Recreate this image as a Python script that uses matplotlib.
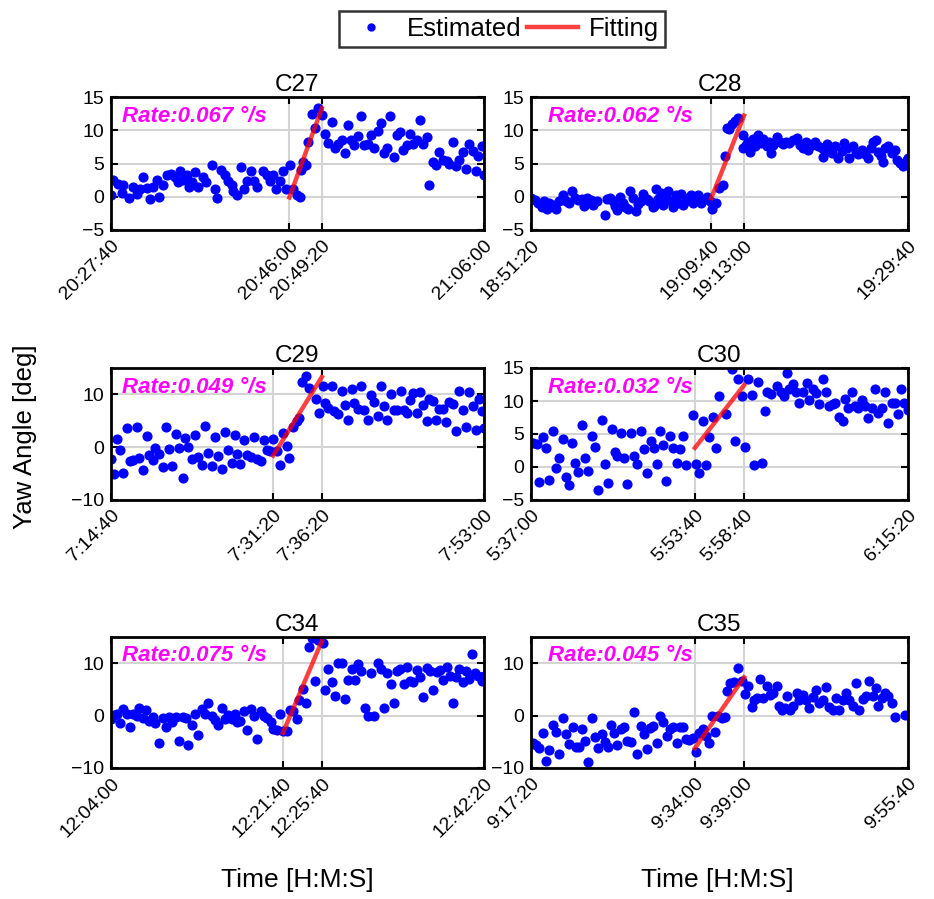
import matplotlib
matplotlib.use("Agg")
import matplotlib.pyplot as plt
from matplotlib.lines import Line2D

plt.rcParams['font.family'] = ['Liberation Sans', 'DejaVu Sans']

# data: seconds from first tick, yaw angle [deg]
c27_t = [0, 14, 45, 66, 76, 113, 138, 158, 179, 195, 220, 240, 261, 281, 298, 318, 343, 368, 394, 415,
         425, 446, 470, 483, 497, 518, 538, 569, 586, 621, 641, 656, 676, 703, 723, 744, 754, 775, 799, 820,
         836, 861, 882, 902, 939, 960, 980, 1001, 1017, 1042, 1062, 1077, 1104, 1120, 1145, 1165, 1169, 1186,
         1202, 1217, 1237, 1258, 1278, 1299, 1319, 1340, 1360, 1381, 1402, 1422, 1443, 1463, 1480, 1500, 1525,
         1541, 1560, 1586, 1603, 1621, 1644, 1662, 1683, 1703, 1720, 1745, 1761, 1782, 1802, 1823, 1843, 1864,
         1885, 1905, 1926, 1946, 1963, 1983, 2004, 2024, 2049, 2070, 2086, 2106, 2127, 2148, 2168, 2189, 2209,
         2230, 2250, 2265, 2285, 2300]
c27_v = [0.2, 2.5, 1.9, 0.5, 1.7, -0.2, 1.5, 0.4, 1.2, 3.0, 1.3, -0.4, 1.5, 2.5, 0.0, 1.8, 3.2, 3.4, 2.9, 2.2,
         3.8, 2.5, 3.2, 1.4, 2.2, 3.7, 1.5, 2.9, 2.2, 4.7, 1.2, -0.2, 4.0, 3.3, 2.4, 1.8, 0.8, 0.2, 4.5, 1.2,
         2.4, 3.8, 2.4, 1.5, 3.8, 3.3, 2.4, 3.2, 1.2, 2.3, 3.8, 1.2, 4.7, 1.2, 0.2, 0.0, 4.0, 5.2,
         4.8, 8.2, 12.4, 10.3, 13.3, 12.3, 9.5, 8.1, 11.3, 7.3, 8.0, 8.5, 6.6, 10.8, 8.5, 7.8, 9.1,
         12.2, 7.8, 7.9, 9.3, 7.3, 9.9, 11.1, 6.6, 7.4, 12.2, 6.0, 9.3, 9.8, 7.0, 7.8, 9.4, 8.0,
         8.6, 11.5, 8.0, 9.0, 1.7, 5.2, 4.7, 6.8, 5.5, 5.4, 4.9, 8.3, 4.6, 5.6, 6.8, 4.2, 8.0,
         6.9, 3.9, 6.2, 7.6, 3.2]

c28_t = [0, 24, 45, 65, 79, 96, 112, 132, 153, 173, 193, 214, 234, 250, 268, 289, 309, 325, 344, 364,
         380, 401, 452, 462, 482, 498, 513, 527, 543, 559, 574, 594, 604, 620, 641, 655, 669, 685, 706, 722,
         742, 750, 763, 777, 791, 807, 824, 838, 852, 869, 885, 899, 913, 930, 946, 960, 974, 990, 1007, 1021,
         1035, 1052, 1072, 1092, 1102, 1113, 1129, 1149, 1170, 1184, 1194, 1210, 1224, 1245, 1265, 1296, 1296,
         1312, 1326, 1336, 1353, 1367, 1387, 1401, 1418, 1438, 1454, 1462, 1479, 1503, 1519, 1536, 1556, 1576,
         1597, 1621, 1641, 1658, 1678, 1692, 1713, 1733, 1753, 1774, 1784, 1804, 1821, 1835, 1855, 1875, 1896,
         1910, 1926, 1942, 1963, 1983, 1997, 2018, 2038, 2058, 2073, 2089, 2105, 2119, 2134, 2145, 2160, 2180,
         2201, 2221, 2231, 2252, 2272, 2292, 2300]
c28_v = [-0.2, -0.5, -0.9, -1.5, -0.7, -1.9, -1.0, -1.2, -1.9, -0.7, 0.2, -0.6, -0.9, 0.9, -0.2, -0.5, -0.4,
         -1.4, -0.2, -0.5, -1.2, -0.7, -2.8, -0.4, -0.2, -0.7, -1.4, -2.0, 0.0, -1.0, -1.6, -1.9, 0.9, -0.2,
         -2.2, -1.1, -0.6, 0.4, -0.4, -0.7, -1.5, -1.4, 1.2, -0.4, 0.5, -1.2, 0.0, 0.9, -0.7, -1.5, 0.2, -1.0,
         0.4, -1.2, -0.7, -0.2, 0.3, -0.9, -0.2, 0.2, -1.0, -0.5, -0.1, -0.7, -1.9, -1.0, -0.9, 1.3, 1.7, 6.1,
         10.4, 10.2, 10.9, 11.4, 11.9, 7.3, 9.3, 7.8, 8.3, 6.8, 8.7, 7.6, 9.3, 8.1, 8.7, 7.7, 8.3, 6.6, 7.8,
         9.0, 8.2, 8.0, 8.3, 8.1, 8.6, 8.8, 7.8, 7.3, 8.3, 7.1, 7.8, 8.2, 7.6, 7.3, 6.0, 8.0, 6.9, 6.6, 7.6,
         5.8, 6.9, 8.1, 7.3, 5.8, 7.6, 6.8, 6.4, 7.0, 6.4, 5.8, 7.3, 8.2, 8.5, 6.8, 6.1, 5.3, 7.3, 7.6, 6.6,
         7.1, 5.5, 5.1, 4.6, 5.5, 5.8]

c29_t = [0, 18, 35, 55, 76, 97, 117, 138, 158, 175, 195, 220, 236, 257, 271, 298, 318, 339, 360, 374,
         401, 421, 442, 456, 477, 497, 518, 538, 559, 579, 600, 620, 641, 662, 682, 703, 723, 744, 764, 779,
         795, 820, 840, 861, 882, 902, 923, 943, 964, 980, 1001, 1021, 1042, 1058, 1083, 1099, 1120, 1145,
         1161, 1176, 1203, 1223, 1264, 1284, 1305, 1319, 1340, 1360, 1375, 1402, 1422, 1443, 1463, 1484, 1500,
         1525, 1541, 1560, 1582, 1603, 1621, 1644, 1662, 1683, 1704, 1724, 1745, 1765, 1786, 1806, 1823, 1843,
         1864, 1885, 1905, 1926, 1946, 1963, 1983, 2004, 2024, 2045, 2065, 2086, 2106, 2127, 2148, 2168, 2189,
         2209, 2230, 2250, 2271, 2285, 2300]
c29_v = [-2.2, -5.0, 1.6, -0.5, -4.8, 3.7, -2.7, -2.4, 3.8, -2.0, -4.3, 2.2, -1.4, -2.5, -0.1, -1.3, -3.8,
         3.9, -0.3, -3.5, 2.5, -0.1, -5.9, 1.8, 0.0, -2.2, 2.4, -1.9, -3.3, 4.1, -1.1, -3.5, 1.9, -1.6, -4.1,
         2.9, -0.5, -2.9, 2.4, -1.3, -3.1, 1.4, -1.4, -1.8, 1.9, -2.2, -2.7, 1.3, -0.5, -0.8, 1.6, -0.8, -3.3,
         2.7, 0.3, -2.0, 3.8, 5.0, 5.6, 12.4, 13.4, 11.3, 9.2, 6.5, 11.6, 8.3, 7.5, 11.6, 6.9, 6.2, 10.7, 8.0,
         5.2, 11.1, 8.4, 7.3, 11.6, 7.1, 5.2, 9.9, 8.6, 5.9, 11.5, 7.8, 5.2, 10.1, 7.1, 7.0, 10.7, 7.1, 6.5,
         9.0, 10.3, 6.4, 10.5, 8.0, 5.0, 9.2, 8.8, 5.2, 7.3, 7.3, 4.8, 8.6, 8.2, 3.1, 10.7, 7.0, 3.9, 10.5,
         7.8, 3.2, 9.2, 6.9, 3.7]

c30_t = [14, 35, 51, 71, 92, 112, 132, 153, 173, 193, 214, 234, 248, 269, 289, 309, 330, 350, 370, 391,
         411, 431, 452, 472, 492, 513, 527, 547, 568, 588, 608, 629, 649, 669, 690, 710, 730, 751, 767, 787,
         808, 824, 848, 869, 889, 909, 930, 946, 987, 1007, 1027, 1048, 1068, 1088, 1109, 1129, 1149, 1190,
         1225, 1245, 1265, 1286, 1306, 1326, 1347, 1361, 1387, 1408, 1428, 1442, 1462, 1503, 1523, 1544, 1560,
         1576, 1597, 1617, 1637, 1658, 1682, 1698, 1719, 1739, 1759, 1784, 1800, 1820, 1841, 1855, 1881, 1902,
         1916, 1936, 1957, 1977, 1997, 2018, 2038, 2058, 2079, 2099, 2119, 2140, 2160, 2180, 2201, 2221, 2241,
         2256, 2276, 2300]
c30_v = [3.7, 3.5, -2.3, 4.5, 2.9, -1.9, 5.5, -0.1, 1.4, 4.3, -1.5, -2.8, 3.6, 0.6, -0.8, 6.3, 1.4, -0.6,
         4.7, 3.1, -3.5, 7.1, 0.4, -2.4, 5.8, 2.3, 1.6, 5.2, 1.3, -2.6, 5.2, 1.6, 0.4, 5.5, 2.8, -0.9, 4.0,
         2.9, 0.4, 5.5, 3.3, -2.1, 4.7, 2.9, 0.6, 2.8, 4.7, 0.25, 7.9, 0.4, -0.9, 7.0, 0.25, 4.5, 7.5, 2.9,
         10.7, 8.0, 14.8, 4.0, 13.3, 10.8, 3.0, 13.3, 10.9, 0.25, 12.9, 0.6, 8.5, 11.4, 11.1, 12.3, 11.3,
         10.8, 14.3, 11.8, 12.6, 11.4, 9.7, 11.3, 12.8, 10.2, 11.8, 11.2, 9.5, 13.3, 11.4, 9.2, 9.5, 9.7,
         7.5, 7.0, 10.3, 8.9, 11.3, 9.2, 9.0, 10.1, 9.2, 7.4, 8.9, 11.8, 8.2, 9.0, 11.3, 6.7, 9.7, 9.7, 8.0,
         11.8, 9.7, 8.7]

c34_t = [0, 18, 39, 55, 76, 97, 117, 138, 158, 175, 195, 216, 236, 257, 271, 298, 318, 339, 360, 374,
         401, 421, 442, 462, 477, 497, 518, 538, 559, 579, 600, 620, 641, 662, 682, 703, 723, 744, 764, 779,
         795, 820, 840, 861, 882, 902, 923, 943, 964, 984, 1001, 1021, 1042, 1062, 1087, 1104, 1124, 1145,
         1161, 1186, 1202, 1223, 1237, 1258, 1278, 1305, 1319, 1340, 1360, 1381, 1402, 1422, 1443, 1463, 1484,
         1504, 1525, 1541, 1566, 1582, 1603, 1624, 1644, 1662, 1683, 1704, 1724, 1745, 1761, 1782, 1806, 1823,
         1843, 1864, 1885, 1905, 1926, 1946, 1967, 1987, 2008, 2028, 2049, 2069, 2090, 2106, 2127, 2148, 2168,
         2189, 2209, 2224, 2244, 2265, 2285, 2300]
c34_v = [-0.6, 0.1, 0.4, -1.5, 1.3, 0.4, -2.1, 0.3, 0.0, 1.5, -0.4, 1.1, -1.0, -0.2, -1.5, -5.3, -0.4, -2.1,
         -0.2, -1.3, -0.2, -4.8, -0.2, -0.4, -5.6, -1.8, 0.4, -3.7, 1.3, 0.4, 2.5, 0.0, -0.8, -1.7, 1.5, -0.6,
         0.1, -0.6, 0.3, -1.3, -1.0, 0.9, -2.7, 1.3, 0.0, -4.5, 0.9, 0.0, -0.4, -1.3, -2.5, -2.7, 0.4, -2.9,
         -2.9, 1.1, 0.9, -0.6, 3.0, 5.1, 2.5, 13.0, 14.9, 6.6, 14.4, 13.8, 4.9, 8.9, 6.4, 3.8, 10.0, 10.0,
         3.2, 6.8, 8.9, 6.8, 9.8, 8.5, 1.5, 0.0, 8.1, 0.0, 10.0, 8.9, 1.5, 8.1, 6.0, 2.4, 8.5, 8.9, 6.0, 9.2,
         6.6, 6.4, 8.7, 7.3, 3.6, 9.0, 8.5, 4.9, 8.4, 8.7, 6.8, 9.2, 7.5, 2.4, 7.3, 8.9, 6.4, 8.5, 7.0, 11.7,
         8.1, 7.6, 6.6, 7.5]

c35_t = [10, 31, 51, 71, 92, 112, 132, 153, 173, 193, 214, 234, 254, 275, 295, 309, 330, 350, 370, 391,
         411, 431, 452, 472, 486, 506, 527, 547, 568, 588, 608, 629, 649, 669, 690, 706, 726, 746, 767, 787,
         808, 828, 848, 869, 889, 909, 930, 946, 966, 987, 1007, 1027, 1048, 1068, 1088, 1102, 1123, 1143,
         1164, 1184, 1198, 1214, 1239, 1265, 1286, 1306, 1326, 1347, 1361, 1377, 1397, 1418, 1442, 1458, 1475,
         1499, 1515, 1530, 1550, 1564, 1580, 1601, 1621, 1637, 1658, 1678, 1697, 1719, 1739, 1759, 1780, 1800,
         1820, 1841, 1861, 1881, 1902, 1922, 1942, 1963, 1983, 2003, 2024, 2044, 2065, 2085, 2105, 2119, 2140,
         2160, 2180, 2201, 2221, 2282]
c35_v = [-5.3, -5.6, -6.2, -3.4, -8.7, -6.6, -1.8, -3.2, -7.4, -0.4, -3.6, -5.5, -2.1, -5.9, -5.9, -2.5,
         -4.8, -8.8, -0.5, -4.0, -6.2, -3.6, -5.1, -5.9, -1.8, -3.4, -5.6, -2.5, -2.1, -4.8, -5.1, 0.6, -7.4,
         -1.9, -3.6, -6.4, -2.3, -1.9, -5.3, 0.0, -1.3, -3.8, -2.5, -2.1, -5.3, -2.1, -2.1, -4.5, -4.6, -4.2,
         -6.9, -3.4, -2.5, -3.8, -5.3, 0.0, -3.2, 0.0, -0.4, -0.2, 4.7, 6.2, 6.4, 9.0, 6.6, 4.1, 5.7, 1.7,
         3.0, 3.4, 7.0, 3.4, 5.7, 3.9, 4.3, 5.7, 1.9, 1.1, 1.5, 3.8, 1.1, 1.9, 4.3, 3.0, 3.9, 3.0, 1.5, 3.6,
         4.9, 2.5, 3.0, 5.4, 1.7, 1.1, 3.4, 1.1, 3.0, 4.3, 3.0, 1.9, 6.2, 1.1, 3.2, 3.8, 6.6, 3.8, 5.2, 1.9,
         3.4, 4.3, 3.8, 2.5, -0.2, 0.1]

names = ['C27', 'C28', 'C29', 'C30', 'C34', 'C35']
times = [c27_t, c28_t, c29_t, c30_t, c34_t, c35_t]
values = [c27_v, c28_v, c29_v, c30_v, c34_v, c35_v]
rates = ['0.067', '0.062', '0.049', '0.032', '0.075', '0.045']
tick_labels = [['20:27:40', '20:46:00', '20:49:20', '21:06:00'],
               ['18:51:20', '19:09:40', '19:13:00', '19:29:40'],
               ['7:14:40', '7:31:20', '7:36:20', '7:53:00'],
               ['5:37:00', '5:53:40', '5:58:40', '6:15:20'],
               ['12:04:00', '12:21:40', '12:25:40', '12:42:20'],
               ['9:17:20', '9:34:00', '9:39:00', '9:55:40']]
fit_v = [(-0.1, 13.3), (-0.2, 12.2), (-1.6, 13.3), (2.9, 12.4), (-3.3, 14.2), (-6.2, 7.3)]
ylims = [(-5, 15), (-5, 15), (-10, 15), (-5, 15), (-10, 15), (-10, 15)]
yticks = [[-5, 0, 5, 10, 15], [-5, 0, 5, 10, 15], [-10, 0, 10],
          [-5, 0, 5, 10, 15], [-10, 0, 10], [-10, 0, 10]]


def secs(s):
    h, m, x = s.split(':')
    return int(h) * 3600 + int(m) * 60 + int(x)


W, H = 934, 899
fig = plt.figure(figsize=(W / 100, H / 100), dpi=100)

cols = [(111, 373), (531, 377)]
rows = [(97, 230), (368, 500), (637, 768)]

for i in range(6):
    r, c = divmod(i, 2)
    x0, w = cols[c]
    yt, yb = rows[r]
    ax = fig.add_axes([x0 / W, 1 - yb / H, w / W, (yb - yt) / H])

    ticks = [secs(l) - secs(tick_labels[i][0]) for l in tick_labels[i]]
    ax.plot(times[i], values[i], 'o', color='blue', ms=6.3, mec='blue')
    ax.plot([ticks[1], ticks[2]], fit_v[i], color='red', lw=3.2, alpha=0.75)

    ax.set_xlim(ticks[0], ticks[-1])
    ax.set_ylim(*ylims[i])
    ax.set_xticks(ticks)
    ax.set_xticklabels(tick_labels[i], rotation=45, ha='right', rotation_mode='anchor')
    ax.set_yticks(yticks[i])
    ax.grid(True, color='#d4d4d4', lw=1.5)
    ax.set_axisbelow(True)
    ax.tick_params(direction='in', top=True, right=True, length=5, width=1.5,
                   labelsize=14, pad=5)
    for sp in ax.spines.values():
        sp.set_linewidth(2)
    ax.set_title(names[i], fontsize=17.5, pad=4)
    ax.text(0.03 if c == 0 else 0.045, 0.855, 'Rate:' + rates[i] + ' °/s',
            transform=ax.transAxes, color='magenta', fontweight='bold',
            fontstyle='italic', fontsize=16, va='center', ha='left')

fig.text(25 / W, 1 - 437 / H, 'Yaw Angle [deg]', rotation=90, fontsize=18.5,
         ha='center', va='center')
fig.text(297 / W, 1 - 880 / H, 'Time [H:M:S]', fontsize=19, ha='center', va='center')
fig.text(717 / W, 1 - 880 / H, 'Time [H:M:S]', fontsize=19, ha='center', va='center')

handles = [Line2D([], [], marker='o', ls='none', color='blue', ms=5),
           Line2D([], [], color='red', lw=3.2, alpha=0.75)]
leg = fig.legend(handles, ['Estimated', 'Fitting'], loc='center',
                 bbox_to_anchor=(502 / W, 1 - 29 / H), ncol=2, fontsize=18.5,
                 frameon=True, fancybox=False, edgecolor='black',
                 handlelength=2.0, columnspacing=0.2, handletextpad=0.4,
                 borderpad=0.25)
leg.get_frame().set_linewidth(1.8)

fig.savefig('out.png', dpi=100)
